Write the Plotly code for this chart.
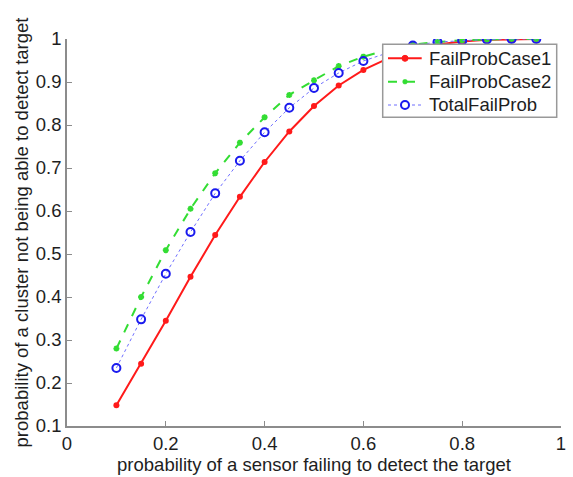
import plotly.graph_objects as go

# sensor failure probability (x) and resulting cluster failure probabilities
p_sensor = [0.10, 0.15, 0.20, 0.25, 0.30, 0.35, 0.40, 0.45, 0.50,
            0.55, 0.60, 0.65, 0.70, 0.75, 0.80, 0.85, 0.90, 0.95]
fail_case1 = [0.148, 0.245, 0.345, 0.447, 0.544, 0.633, 0.714, 0.785, 0.844,
              0.892, 0.928, 0.955, 0.975, 0.987, 0.994, 0.998, 0.999, 1.000]
fail_case2 = [0.280, 0.400, 0.509, 0.605, 0.688, 0.759, 0.818, 0.870, 0.904,
              0.937, 0.959, 0.975, 0.987, 0.993, 0.997, 0.999, 1.000, 1.000]
total_fail = [0.235, 0.348, 0.454, 0.551, 0.641, 0.717, 0.783, 0.840, 0.886,
              0.921, 0.949, 0.968, 0.985, 0.993, 0.996, 0.999, 1.000, 1.000]
series_names = ["FailProbCase1", "FailProbCase2", "TotalFailProb"]

x_ticks = [0, 0.2, 0.4, 0.6, 0.8, 1]
x_tick_text = ["0", "0.2", "0.4", "0.6", "0.8", "1"]
y_ticks = [0.1, 0.2, 0.3, 0.4, 0.5, 0.6, 0.7, 0.8, 0.9, 1]
y_tick_text = ["0.1", "0.2", "0.3", "0.4", "0.5", "0.6", "0.7", "0.8", "0.9", "1"]

FONT = "Liberation Sans, Arial, sans-serif"
FS = 18.5
TEXT = "#1e1e1e"
AXIS_GREY = "#8c8c8c"
RED, GREEN, BLUE = "#ff1a1a", "#33dd33", "#1a1aee"
BLUE_DOT = "#6f6fff"

W, H = 573, 477
ML, MR, MT, MB = 67, 12, 39, 51
PW, PH = W - ML - MR, H - MT - MB


def px_x(px):
    """page pixel column -> paper x"""
    return (px - ML) / PW


def px_y(py):
    """page pixel row -> paper y"""
    return (H - MB - py) / PH


fig = go.Figure()
fig.add_trace(go.Scatter(
    x=p_sensor, y=fail_case1, name=series_names[0], mode="lines+markers",
    line=dict(color=RED, width=2),
    marker=dict(symbol="circle", size=6, color=RED),
))
fig.add_trace(go.Scatter(
    x=p_sensor, y=fail_case2, name=series_names[1], mode="lines+markers",
    line=dict(color=GREEN, width=2, dash="dash"),
    marker=dict(symbol="asterisk-open", size=5, color=GREEN,
                line=dict(color=GREEN, width=1.8)),
))
fig.add_trace(go.Scatter(
    x=p_sensor, y=total_fail, name=series_names[2], mode="lines+markers",
    line=dict(color=BLUE_DOT, width=1, dash="dot"),
    marker=dict(symbol="circle-open", size=8, color=BLUE,
                line=dict(color=BLUE, width=2)),
))

# boxed legend in the upper right, drawn with shapes + annotations
shapes, annotations = [], []
box_l, box_r, box_t, box_b = 382.7, 556.7, 44.3, 117.3
shapes.append(dict(type="rect", xref="paper", yref="paper", layer="above",
                   x0=px_x(box_l), x1=px_x(box_r), y0=px_y(box_b), y1=px_y(box_t),
                   fillcolor="white", line=dict(color="#999999", width=1.5)))
row_y = [58.3, 81.7, 105.0]
key_x0, key_x1, key_mid, text_x = 388.0, 421.7, 405.0, 426.7
key_styles = [
    dict(color=RED, width=2, dash="solid"),
    dict(color=GREEN, width=2, dash="dash"),
    dict(color=BLUE_DOT, width=1, dash="dot"),
]
for name, ry, ls in zip(series_names, row_y, key_styles):
    yp = px_y(ry)
    shapes.append(dict(type="line", xref="paper", yref="paper", layer="above",
                       x0=px_x(key_x0), x1=px_x(key_x1), y0=yp, y1=yp, line=ls))
    annotations.append(dict(text=name, xref="paper", yref="paper",
                            x=px_x(text_x), y=yp, xanchor="left", yanchor="middle",
                            showarrow=False, font=dict(family=FONT, size=FS, color=TEXT)))

xm = px_x(key_mid)
# red filled dot
shapes.append(dict(type="circle", xref="paper", yref="paper", layer="above",
                   xsizemode="pixel", ysizemode="pixel", xanchor=xm, yanchor=px_y(row_y[0]),
                   x0=-3, x1=3, y0=-3, y1=3, fillcolor=RED, line=dict(color=RED, width=1)))
# green asterisk
for dx, dy in [(2.5, 0), (0, 2.5), (1.8, 1.8), (1.8, -1.8)]:
    shapes.append(dict(type="line", xref="paper", yref="paper", layer="above",
                       xsizemode="pixel", ysizemode="pixel", xanchor=xm, yanchor=px_y(row_y[1]),
                       x0=-dx, x1=dx, y0=-dy, y1=dy, line=dict(color=GREEN, width=1.8)))
# blue open circle
shapes.append(dict(type="circle", xref="paper", yref="paper", layer="above",
                   xsizemode="pixel", ysizemode="pixel", xanchor=xm, yanchor=px_y(row_y[2]),
                   x0=-4, x1=4, y0=-4, y1=4, fillcolor="white", line=dict(color=BLUE, width=2)))

fig.update_layout(
    width=W, height=H,
    margin=dict(l=ML, r=MR, t=MT, b=MB, autoexpand=False),
    paper_bgcolor="white", plot_bgcolor="white",
    font=dict(family=FONT, size=FS, color=TEXT),
    showlegend=False,
    shapes=shapes,
    annotations=annotations,
    xaxis=dict(
        range=[0, 1], tickvals=x_ticks, ticktext=x_tick_text,
        showgrid=False, zeroline=False, showline=True,
        linecolor=AXIS_GREY, linewidth=1.5,
        ticks="inside", ticklen=5, tickcolor=AXIS_GREY, tickwidth=1,
        tickfont=dict(size=FS),
        title=dict(text="probability of a sensor failing to detect the target",
                   standoff=2, font=dict(size=FS)),
    ),
    yaxis=dict(
        range=[0.1, 1], tickvals=y_ticks, ticktext=y_tick_text,
        showgrid=False, zeroline=False, showline=True,
        linecolor=AXIS_GREY, linewidth=1.5,
        ticks="inside", ticklen=5, tickcolor=AXIS_GREY, tickwidth=1,
        tickfont=dict(size=FS),
        title=dict(text="probability of a cluster not being able to detect target",
                   standoff=2, font=dict(size=FS)),
    ),
)

fig.write_html("out.html")
